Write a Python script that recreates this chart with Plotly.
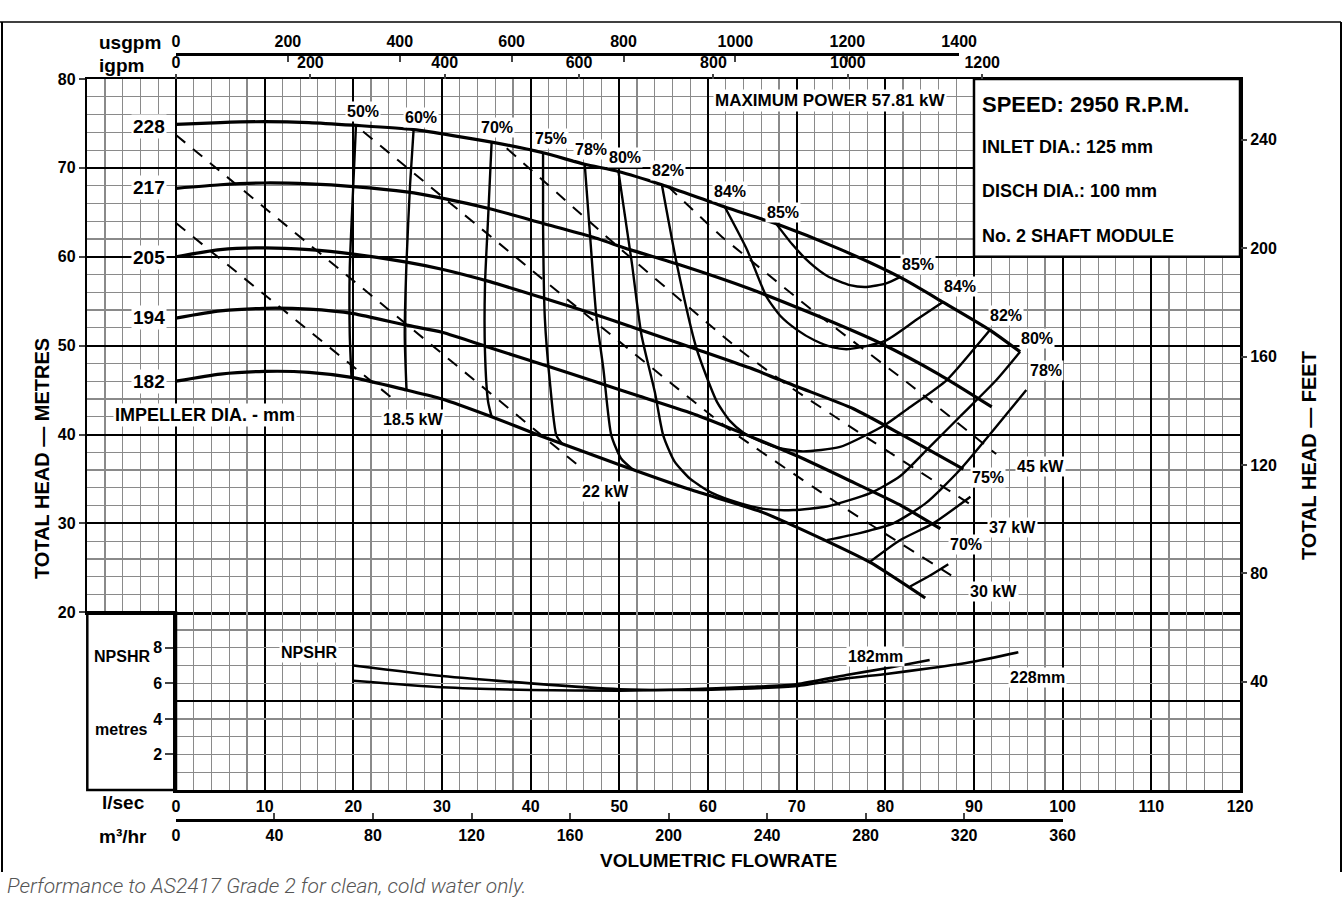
import plotly.graph_objects as go

# ---------------- data ----------------
# impeller head curves: flow l/s -> total head m
imp_228_q = [0, 5, 10, 15, 20, 26.8, 35.6, 41.4, 46.1, 49.9, 54.8, 61.9, 67.7, 75, 81.65, 86.5, 91.8, 95.2]
imp_228_h = [74.9, 75.1, 75.2, 75.1, 74.8, 74.3, 72.9, 71.7, 70.4, 69.6, 68.1, 65.6, 63.7, 60.8, 57.7, 54.9, 51.75, 49.3]
imp_217_q = [0, 5, 10, 15, 20, 26, 30, 35.4, 41.4, 46.7, 51.2, 56.8, 64.7, 72, 79.4, 86, 92]
imp_217_h = [67.7, 68.1, 68.3, 68.2, 67.9, 67.3, 66.6, 65.4, 63.75, 62.3, 60.8, 59.1, 56.4, 53.5, 50.3, 46.8, 43.1]
imp_205_q = [0, 5, 10, 15, 20, 26, 30, 35.4, 41.6, 46.7, 52, 58.7, 64.7, 70, 76.4, 82, 88.8]
imp_205_h = [60.0, 60.8, 61.0, 60.8, 60.3, 59.4, 58.6, 57.2, 55.3, 53.7, 51.9, 49.6, 47.5, 45.4, 42.9, 39.9, 36.1]
imp_194_q = [0, 5, 10, 15, 20, 26, 30, 35.6, 41.6, 47.4, 52.3, 58.7, 64, 70, 76, 81.6, 86.2]
imp_194_h = [53.1, 53.9, 54.2, 54.1, 53.6, 52.3, 51.5, 49.7, 47.8, 45.9, 44.3, 42.2, 40.1, 37.6, 34.8, 32.1, 29.4]
imp_182_q = [0, 5, 10, 15, 20, 26, 30, 35.6, 41, 50, 58, 66, 73.4, 78.3, 84.5]
imp_182_h = [46.0, 46.8, 47.1, 47.0, 46.4, 45.0, 44.0, 42.0, 39.9, 36.6, 33.8, 31.3, 28.0, 25.6, 21.6]
impeller_names = ["228", "217", "205", "194", "182"]

# iso-efficiency curves
eff50_q = [20.3, 20.0, 19.6, 19.6, 19.8]
eff50_h = [74.8, 68.1, 58.7, 51.2, 46.3]
eff60_q = [26.8, 26.4, 26.0, 25.8, 26.0]
eff60_h = [74.3, 68.1, 59.4, 51.2, 45.0]
eff70_q = [35.6, 35.2, 34.85, 34.85, 35.2, 35.6]
eff70_h = [72.9, 64.3, 56.8, 49.3, 43.7, 42.0]
eff70r_q = [82.8, 85, 87.1]
eff70r_h = [22.9, 24.1, 25.4]
eff75_q = [41.4, 41.4, 41.6, 42.2, 42.9, 43.6]
eff75_h = [71.7, 63.6, 53.1, 45.6, 39.9, 38.9]
eff75r_q = [78.3, 81.65, 85.4, 89.6]
eff75r_h = [25.7, 28.1, 30.0, 33.0]
eff78_q = [46.1, 46.7, 47.4, 48.2, 49.1, 50.2, 51.6]
eff78_h = [70.4, 62.4, 53.4, 47.4, 39.9, 37.3, 36.0]
eff78r_q = [73.4, 77.1, 80.9, 84.6, 88.4, 92.2, 95.9]
eff78r_h = [28.1, 28.9, 30.0, 32.3, 36.0, 40.5, 45.0]
eff80_q = [49.9, 51.4, 52.5, 54.0, 54.95, 56.2, 58, 60.5, 63.5, 66.5, 69.6, 73.4, 78.3, 81.65, 84.7, 88.4, 92.5, 95.2]
eff80_h = [69.6, 59.4, 51.2, 44.8, 39.9, 37.0, 35.0, 33.4, 32.3, 31.6, 31.5, 31.9, 33.4, 35.3, 38.3, 42.0, 46.1, 49.3]
eff82_q = [54.8, 56.5, 58.7, 61.0, 62.5, 64.0, 66, 68, 70.7, 74.9, 80.0, 82.4, 86.9, 89.9, 91.8]
eff82_h = [68.1, 59.1, 49.7, 43.7, 41.5, 40.2, 39.2, 38.5, 38.1, 38.6, 41.1, 42.8, 46.1, 49.5, 51.75]
eff84_q = [61.9, 64.4, 66.6, 68.2, 70.0, 72, 74.1, 75.6, 77.1, 80.1, 83.5, 86.5]
eff84_h = [65.6, 60.8, 55.5, 53.3, 51.8, 50.6, 49.8, 49.6, 49.8, 50.6, 52.9, 54.9]
eff85_q = [67.7, 69.5, 71.5, 73.5, 76.0, 77.9, 80.1, 81.65]
eff85_h = [63.7, 61.4, 59.3, 57.8, 56.8, 56.6, 57.0, 57.7]

# constant power lines (kW)
kw185_q = [0, 24.5]
kw185_h = [63.8, 44.0]
kw22_q = [0, 46.0]
kw22_h = [73.7, 36.0]
kw30_q = [21.1, 45, 62.5, 75, 88]
kw30_h = [74.1, 54.5, 40.5, 32.0, 23.8]
kw37_q = [37.3, 50, 63.6, 69.2, 78.3, 89.5]
kw37_h = [72.2, 61.0, 49.5, 45.4, 39.4, 32.2]
kw45_q = [55.5, 61.4, 72, 82.8, 92.5]
kw45_h = [67.9, 62.4, 53.8, 45.6, 37.8]

# NPSHR curves (metres)
npsh228_q = [20, 30, 40, 50, 58, 65, 70, 75.6, 80.1, 85, 89.9, 95]
npsh228_v = [7.0, 6.41, 6.0, 5.67, 5.63, 5.72, 5.85, 6.28, 6.53, 6.85, 7.22, 7.75]
npsh182_q = [20, 30, 40, 50, 57, 65, 70, 75.6, 80.1, 85]
npsh182_v = [6.15, 5.78, 5.63, 5.59, 5.65, 5.8, 5.95, 6.47, 6.85, 7.31]

# axis ticks
lsec_ticks = list(range(0, 121, 10))
head_ticks = list(range(20, 81, 10))
feet_ticks = [40, 80, 120, 160, 200, 240]
npsh_ticks = [2, 4, 6, 8]
m3h_ticks = list(range(0, 361, 40))
usgpm_ticks = list(range(0, 1401, 200))
igpm_ticks = list(range(0, 1201, 200))
M3H_PER_LS = 3.6
USGPM_PER_LS = 15.850
IGPM_PER_LS = 13.198
FT_PER_M = 3.28084

# ---------------- layout geometry ----------------
W, H = 1344, 905
XL_PX, X0_PX, XR_PX = 87.3, 176.0, 1240.0
YT_PX, Y20_PX, YB_PX = 79.0, 612.25, 790.0
FONT = "Liberation Sans, Arial, Helvetica, sans-serif"
GRAY = "#8a8a8a"


def fx(px):
    return px / W


def fy(py):
    return 1 - py / H


xdom = [fx(XL_PX), fx(XR_PX)]


def qfrac(q):
    return xdom[0] + (q + 10) / 130 * (xdom[1] - xdom[0])


ydom_head = [fy(Y20_PX), fy(YT_PX)]
ydom_npsh = [fy(YB_PX), fy(Y20_PX)]
ydom_full = [fy(YB_PX), fy(YT_PX)]

fig = go.Figure()

# impeller curves
for name, q, h in zip(impeller_names,
                      [imp_228_q, imp_217_q, imp_205_q, imp_194_q, imp_182_q],
                      [imp_228_h, imp_217_h, imp_205_h, imp_194_h, imp_182_h]):
    fig.add_trace(go.Scatter(x=q, y=h, mode="lines", name=name,
                             line=dict(color="black", width=3.2, shape="spline", smoothing=0.6),
                             xaxis="x", yaxis="y", hoverinfo="skip"))

# efficiency curves
for q, h in [(eff50_q, eff50_h), (eff60_q, eff60_h), (eff70_q, eff70_h), (eff70r_q, eff70r_h),
             (eff75_q, eff75_h), (eff75r_q, eff75r_h), (eff78_q, eff78_h), (eff78r_q, eff78r_h),
             (eff80_q, eff80_h), (eff82_q, eff82_h), (eff84_q, eff84_h), (eff85_q, eff85_h)]:
    fig.add_trace(go.Scatter(x=q, y=h, mode="lines",
                             line=dict(color="black", width=2.4, shape="spline", smoothing=0.6),
                             xaxis="x", yaxis="y", hoverinfo="skip"))

# power lines
for q, h in [(kw185_q, kw185_h), (kw22_q, kw22_h), (kw30_q, kw30_h), (kw37_q, kw37_h), (kw45_q, kw45_h)]:
    fig.add_trace(go.Scatter(x=q, y=h, mode="lines",
                             line=dict(color="black", width=2, dash="12px,10px", shape="spline", smoothing=0.4),
                             xaxis="x", yaxis="y", hoverinfo="skip"))

# NPSHR curves
for q, v in [(npsh228_q, npsh228_v), (npsh182_q, npsh182_v)]:
    fig.add_trace(go.Scatter(x=q, y=v, mode="lines",
                             line=dict(color="black", width=2.6, shape="spline", smoothing=0.6),
                             xaxis="x5", yaxis="y3", hoverinfo="skip"))

# invisible anchors so that the secondary axes are drawn
for xa in ["x6", "x2", "x3", "x4"]:
    fig.add_trace(go.Scatter(x=[0], y=[0], mode="markers", marker=dict(opacity=0, size=1),
                             xaxis=xa, yaxis="y2", hoverinfo="skip"))

tickfont = dict(family=FONT, size=16, color="black", weight="bold")
grid_major = dict(showgrid=True, gridcolor="black", gridwidth=2)
common = dict(automargin=False, zeroline=False, fixedrange=True)

fig.update_layout(
    width=W, height=H,
    margin=dict(l=0, r=0, t=0, b=0),
    paper_bgcolor="white", plot_bgcolor="rgba(0,0,0,0)",
    showlegend=False, hovermode=False,
    xaxis=dict(domain=xdom, range=[-10, 120], anchor="y", tickmode="array", tickvals=lsec_ticks,
               showticklabels=False, ticks="", **grid_major,
               minor=dict(dtick=2, tick0=0, showgrid=True, gridcolor=GRAY, gridwidth=1.2),
               showline=True, mirror=True, linecolor="black", linewidth=2.5, **common),
    yaxis=dict(domain=ydom_head, range=[20, 80], anchor="x", tickmode="array", tickvals=head_ticks,
               ticks="outside", ticklen=6, tickwidth=2, tickfont=tickfont, **grid_major,
               minor=dict(dtick=2, tick0=0, showgrid=True, gridcolor=GRAY, gridwidth=1.2),
               showline=True, mirror=True, linecolor="black", linewidth=2.5, **common),
    xaxis5=dict(domain=[qfrac(0), xdom[1]], range=[0, 120], anchor="y3", tickmode="array",
                tickvals=lsec_ticks, ticks="", tickfont=tickfont, **grid_major,
                minor=dict(dtick=2, tick0=0, showgrid=True, gridcolor=GRAY, gridwidth=1.2),
                showline=True, mirror=False, linecolor="black", linewidth=2.5, **common),
    yaxis3=dict(domain=ydom_npsh, range=[0, 10], anchor="x5", tickmode="array", tickvals=npsh_ticks,
                ticks="outside", ticklen=8, tickwidth=2, tickfont=tickfont,
                showgrid=True, gridcolor=GRAY, gridwidth=1.2,
                minor=dict(dtick=1, tick0=0, showgrid=True, gridcolor=GRAY, gridwidth=1.2),
                showline=True, mirror=True, linecolor="black", linewidth=2.5, **common),
    xaxis6=dict(domain=xdom, range=[-10, 120], anchor="y2", visible=False, **common),
    yaxis2=dict(domain=ydom_full, range=[0, 80 * FT_PER_M], anchor="x6", side="right",
                tickmode="array", tickvals=feet_ticks, ticks="outside", ticklen=6, tickwidth=2,
                tickfont=tickfont, showgrid=False, showline=False, **common),
    xaxis2=dict(domain=[qfrac(0), qfrac(360 / M3H_PER_LS)], range=[0, 360], anchor="free",
                position=fy(820), side="bottom", tickmode="array", tickvals=m3h_ticks,
                ticks="inside", ticklen=6, tickwidth=2, tickfont=tickfont, showgrid=False,
                showline=True, linecolor="black", linewidth=2.5, **common),
    xaxis3=dict(domain=[qfrac(0), qfrac(1400 / USGPM_PER_LS)], range=[0, 1400], anchor="free",
                position=fy(54), side="top", tickmode="array", tickvals=usgpm_ticks,
                ticks="inside", ticklen=6, tickwidth=2, tickfont=tickfont, showgrid=False,
                showline=True, linecolor="black", linewidth=2.5, **common),
    xaxis4=dict(domain=[qfrac(0), qfrac(1200 / IGPM_PER_LS)], range=[0, 1200], anchor="free",
                position=fy(YT_PX), side="top", tickmode="array", tickvals=igpm_ticks,
                ticks="outside", ticklen=5, tickwidth=2, tickfont=tickfont, showgrid=False,
                showline=False, **common),
)

shapes = [
    # info box
    dict(type="rect", xref="x", yref="y", x0=90, x1=120, y0=60, y1=80,
         fillcolor="white", line=dict(color="black", width=2.5), layer="between"),
    # black line at head 10 m (NPSH 5 m)
    dict(type="line", xref="x5", yref="y3", x0=0, x1=120, y0=5, y1=5,
         line=dict(color="black", width=2), layer="between"),
    # NPSHR label box
    dict(type="rect", xref="paper", yref="paper", x0=fx(XL_PX), x1=fx(X0_PX), y0=fy(YB_PX), y1=fy(Y20_PX),
         line=dict(color="black", width=2.5), layer="above"),
    # outer frame
    dict(type="line", xref="paper", yref="paper", x0=0, x1=fx(1341), y0=fy(22), y1=fy(22),
         line=dict(color="black", width=1.5)),
    dict(type="line", xref="paper", yref="paper", x0=fx(2), x1=fx(2), y0=fy(22), y1=fy(872),
         line=dict(color="black", width=2)),
    dict(type="line", xref="paper", yref="paper", x0=fx(1341), x1=fx(1341), y0=fy(22), y1=fy(872),
         line=dict(color="black", width=2)),
]
fig.update_layout(shapes=shapes)

anns = []


def ann(text, px, py, size=17, xanchor="center", bg=None, angle=0, color="black",
        style="normal", weight="bold", family=FONT):
    d = dict(text=text, x=fx(px), y=fy(py), xref="paper", yref="paper", showarrow=False,
             xanchor=xanchor, yanchor="middle", textangle=angle,
             font=dict(family=family, size=size, color=color, style=style, weight=weight))
    if bg:
        d.update(bgcolor=bg, borderpad=1)
    anns.append(d)


ann("usgpm", 97, 42, 19, "left")
ann("igpm", 97, 65, 19, "left")
ann("l/sec", 147, 802, 19, "right")
ann("m³/hr", 149, 836, 19, "right")
ann("VOLUMETRIC FLOWRATE", 718, 860, 19)
ann("TOTAL HEAD — METRES", 42, 459, 20, angle=-90)
ann("TOTAL HEAD — FEET", 1309, 456, 20, angle=-90)
ann("Performance to AS2417 Grade 2 for clean, cold water only.", 5, 886, 21, "left",
    color="#555555", style="italic", weight=300, family="Roboto, Open Sans, sans-serif")

for name, py in zip(impeller_names, [126, 188, 257, 318, 381]):
    ann(name, 149, py, 19, bg="white")
ann("IMPELLER DIA. - mm", 205, 415, 18, bg="white")
ann("NPSHR", 122, 656, 16)
ann("metres", 121, 729, 16)

ann("SPEED: 2950 R.P.M.", 980, 104, 22, "left")
ann("INLET DIA.: 125 mm", 980, 147, 18, "left")
ann("DISCH DIA.: 100 mm", 980, 191, 18, "left")
ann("No. 2 SHAFT MODULE", 980, 236, 18, "left")
ann("MAXIMUM POWER 57.81 kW", 830, 101, 17, bg="white")

eff_labels = [("50%", 363, 112), ("60%", 421, 117), ("70%", 497, 127), ("75%", 551, 138),
              ("78%", 591, 149), ("80%", 625, 158), ("82%", 668, 171), ("84%", 730, 192),
              ("85%", 783, 212), ("85%", 918, 264), ("84%", 960, 286), ("82%", 1006, 315),
              ("80%", 1037, 338), ("78%", 1046, 370), ("75%", 988, 477), ("70%", 966, 544)]
for t, px, py in eff_labels:
    ann(t, px, py, 16, bg="white")

kw_labels = [("18.5 kW", 413, 420), ("22 kW", 605, 491), ("45 kW", 1040, 467),
             ("37 kW", 1012, 527), ("30 kW", 993, 591)]
for t, px, py in kw_labels:
    ann(t, px, py, 16, bg="white")

ann("NPSHR", 309, 652, 16, bg="white")
ann("182mm", 875, 656, 16, bg="white")
ann("228mm", 1037, 677, 16, bg="white")

fig.update_layout(annotations=anns)

fig.write_html("out.html", config={"displayModeBar": False, "staticPlot": True},
               post_script="document.body.style.margin='0px';")
